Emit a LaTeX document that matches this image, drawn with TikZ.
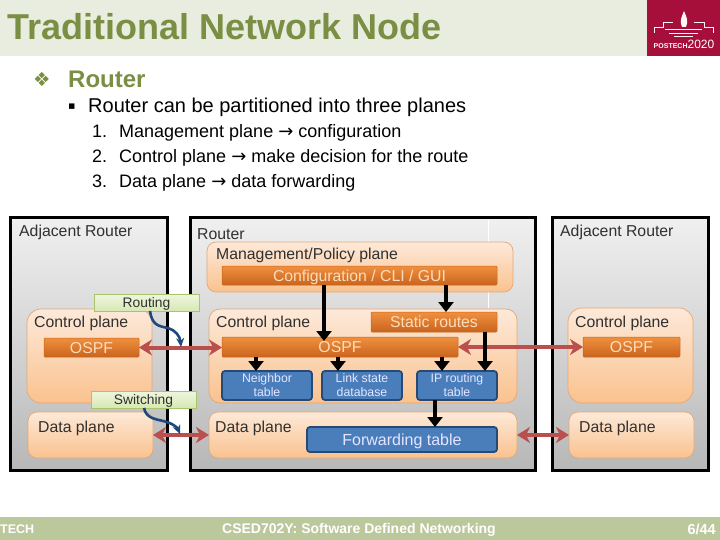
\documentclass[tikz,border=0pt]{standalone}
\usepackage{fontspec}
\setmainfont{Liberation Sans}
\newfontfamily\dejavu{DejaVu Sans}
\usetikzlibrary{arrows.meta}
\definecolor{ttlgreen}{HTML}{7A8F44}
\definecolor{hdrbg}{HTML}{E9EDDF}
\definecolor{ftrbg}{HTML}{BBC89C}
\definecolor{logored}{HTML}{A50F3A}
\definecolor{redarr}{HTML}{B9504E}
\definecolor{bluearr}{HTML}{1F497D}
\definecolor{txtgray}{HTML}{303030}
\definecolor{plnedge}{HTML}{E2A878}
\definecolor{plntop}{HTML}{FDE9D9}
\definecolor{plnbot}{HTML}{FAC28E}
\definecolor{bartop}{HTML}{F0903F}
\definecolor{barbot}{HTML}{C9641D}
\definecolor{bartxt}{HTML}{FBDDBE}
\definecolor{tagtop}{HTML}{EEF6DF}
\definecolor{tagbot}{HTML}{D7E8B2}
\definecolor{tagedge}{HTML}{A9C46C}
\definecolor{tblfill}{HTML}{4A7EBB}
\definecolor{tbledge}{HTML}{254A78}
\tikzset{
 x=1pt,y=-1pt,
 router/.style={draw=black,line width=3pt,top color=black!6,bottom color=black!28},
 plane/.style={draw=plnedge,line width=.7pt,rounded corners=9pt,top color=plntop,bottom color=plnbot},
 bar/.style={draw=barbot,line width=.5pt,rounded corners=1pt,top color=bartop,bottom color=barbot,text=bartxt,text height=11.3pt,text depth=0pt,font=\fontsize{15.8}{18}\selectfont},
 tbl/.style={draw=tbledge,line width=1.8pt,rounded corners=3pt,fill=tblfill,text=white!90!blue,font=\fontsize{12.3}{14}\selectfont},
 tblbig/.style={tbl,text height=11.3pt,text depth=0pt,font=\fontsize{16}{18}\selectfont},
 tag/.style={draw=tagedge,line width=.6pt,top color=tagtop,bottom color=tagbot,text=txtgray,text height=10pt,text depth=0pt,font=\fontsize{13.8}{15}\selectfont},
 lbl/.style={inner sep=0pt,anchor=west,text=txtgray,font=\fontsize{15.8}{18}\selectfont},
 blk/.style={draw=black,line width=3.6pt,-{Triangle[width=15pt,length=10pt]}},
 redl/.style={draw=redarr,line width=4pt,{Stealth[width=16pt,length=13pt,inset=4pt]}-{Stealth[width=16pt,length=13pt,inset=4pt]}},
 blu/.style={draw=bluearr,line width=2.6pt,-{Stealth[width=8pt,length=9pt]}},
 head/.style={inner sep=0pt,anchor=west},
 listtxt/.style={inner sep=0pt,anchor=base west,text=black,font=\fontsize{18}{21}\selectfont},
 foot/.style={inner sep=0pt,text=white,font=\bfseries},
}
\newcommand{\mybox}[7]{%
 \node[#2,inner sep=0pt,outer sep=0pt,align=center,minimum width={(#5-#3)*1pt},minimum height={(#6-#4)*1pt}]
   (#1) at ({(#3+#5)/2},{(#4+#6)/2}) {#7};}
\newcommand{\arw}{{\dejavu\fontsize{18}{19}\selectfont →}}
\begin{document}
\begin{tikzpicture}
\useasboundingbox (0,0) rectangle (720,540);
\fill[white] (0,0) rectangle (720,540);
% header
\fill[hdrbg] (0,0) rectangle (647,56);
\fill[logored] (647,0) rectangle (720,56);
\node[head,text=ttlgreen,font=\fontsize{36}{40}\selectfont\bfseries] (title) at (7,27) {Traditional Network Node};
% logo
\begin{scope}[white!85!pink,line width=.9pt]
 \draw (654,33) -- (654,27) -- (663,27) -- (663,22) -- (673,22) (694,22) -- (704,22) -- (704,27) -- (713,27) -- (713,33);
 \draw (665,29) -- (702,29) (669,33) -- (698,33) (674,36) -- (693,36);
 \fill (682,27) .. controls (679,21) and (682,16) .. (684,11) .. controls (686,16) and (689,21) .. (686,27) -- cycle;
\end{scope}
\node[inner sep=0pt,text=white] (logotxt) at (684,44.5) {\fontsize{7}{8}\selectfont\bfseries POSTECH\fontsize{12}{12}\selectfont\mdseries 2020};
% text
\node[head,text=ttlgreen,font=\dejavu\fontsize{19.5}{22}\selectfont] (b1) at (33,79) {❖};
\node[head,text=ttlgreen,font=\fontsize{24}{27}\selectfont\bfseries] (t1) at (68,79) {Router};
\node[head,text=black,font=\dejavu\fontsize{11}{13}\selectfont] (b2) at (68,107) {▪};
\node[head,text=black,font=\fontsize{20}{23}\selectfont] (t2) at (88,107) {Router can be partitioned into three planes};
\node[listtxt] (n1) at (92,138) {1.};
\node[listtxt] (n2) at (92,163) {2.};
\node[listtxt] (n3) at (92,188) {3.};
\node[listtxt] (l1) at (119,138) {Management plane \arw{} configuration};
\node[listtxt] (l2) at (119,163) {Control plane \arw{} make decision for the route};
\node[listtxt] (l3) at (119,188) {Data plane \arw{} data forwarding};
% routers
\mybox{rl}{router}{10}{218}{167}{470}{}
\mybox{rc}{router}{190}{218}{535}{470}{}
\mybox{rr}{router}{552}{218}{708}{470}{}
\coordinate (wl) at (488,0);
\draw[white,line width=.8pt] (rc.north -| wl) ++(0,2) -- ++(0,88);
\node[lbl] (rlt) at (19,232) {Adjacent Router};
\node[lbl] (rct) at (197,234) {Router};
\node[lbl] (rrt) at (560,232) {Adjacent Router};
% planes, left
\mybox{cl}{plane,rounded corners=14pt}{27}{309}{152}{403}{}
\mybox{dl}{plane}{28}{412}{153}{458}{}
\mybox{ol}{bar}{44}{338}{139}{357}{OSPF}
\node[lbl] (clt) at (34,323) {Control plane};
\node[lbl] (dlt) at (38,428) {Data plane};
% planes, centre
\mybox{mc}{plane}{207}{242}{513}{292}{}
\mybox{cfg}{bar}{222}{266}{497}{285}{Configuration / CLI / GUI}
\mybox{cc}{plane,rounded corners=11pt}{209}{309}{517}{403}{}
\mybox{st}{bar}{371}{312}{497}{332}{Static routes}
\mybox{oc}{bar}{222}{337}{458}{357}{OSPF}
\mybox{nb}{tbl}{222}{371}{312}{400}{Neighbor\\table}
\mybox{ls}{tbl}{322}{371}{402}{400}{Link state\\database}
\mybox{ip}{tbl}{417}{371}{497}{400}{IP routing\\table}
\mybox{dc}{plane}{209}{412}{517}{458}{}
\mybox{fw}{tblbig}{307}{427}{497}{452}{Forwarding table}
\node[lbl] (mct) at (216,255) {Management/Policy plane};
\node[lbl] (cct) at (216,323) {Control plane};
\node[lbl] (dct) at (215,428) {Data plane};
% planes, right
\mybox{cr}{plane,rounded corners=14pt}{568}{308}{693}{403}{}
\mybox{dr}{plane}{569}{412}{694}{458}{}
\mybox{or}{bar}{583}{337}{680}{357}{OSPF}
\node[lbl] (crt) at (575,323) {Control plane};
\node[lbl] (drt) at (579,428) {Data plane};
% red arrows
\draw[redl] (ol.east) -- (ol.east -| oc.west);
\draw[redl] (oc.east) -- (oc.east -| or.west);
\draw[redl] (dl.east) -- (dc.west);
\draw[redl] (dc.east) -- (dr.west);
% black arrows
\coordinate (a1) at (324,0);
\coordinate (a2) at (446,0);
\coordinate (a3) at (485,0);
\coordinate (a4) at (256,0);
\coordinate (a5) at (338,0);
\coordinate (a6) at (442,0);
\coordinate (a7) at (435,0);
\draw[blk,shorten >=-4pt] (cfg.south -| a1) -- (oc.north -| a1);
\draw[blk] (cfg.south -| a2) -- (st.north -| a2);
\draw[blk] (st.south -| a3) -- (ip.north -| a3);
\draw[blk] (oc.south -| a4) -- (nb.north -| a4);
\draw[blk] (oc.south -| a5) -- (ls.north -| a5);
\draw[blk] (oc.south -| a6) -- (ip.north -| a6);
\draw[blk] (ip.south -| a7) -- (fw.north -| a7);
% tags
\mybox{rt}{tag}{94}{294}{199}{311}{Routing}
\mybox{sw}{tag}{91}{391}{196}{408}{Switching}
\coordinate (rte) at (181,347);
\coordinate (swe) at (180,434);
\coordinate (rts) at (150,0);
\coordinate (sws) at (144,0);
\draw[blu] (rt.south -| rts) .. controls (152,325) and (158,326) .. (168,328) .. controls (175,330) and (180,336) .. (rte);
\draw[blu] (sw.south -| sws) .. controls (146,418) and (155,419) .. (163,421) .. controls (172,423) and (177,427) .. (swe);
% footer
\fill[ftrbg] (0,517) rectangle (720,540);
\node[foot,anchor=west,font=\fontsize{12.5}{15}\selectfont\bfseries] (f1) at (0,529.5) {TECH};
\node[foot,anchor=west,font=\fontsize{14}{16}\selectfont\bfseries] (f2) at (222,529.5) {CSED702Y: Software Defined Networking};
\node[foot,anchor=east,font=\fontsize{14.5}{16}\selectfont\bfseries] (f3) at (716,529.5) {6/44};
\end{tikzpicture}
\end{document}
